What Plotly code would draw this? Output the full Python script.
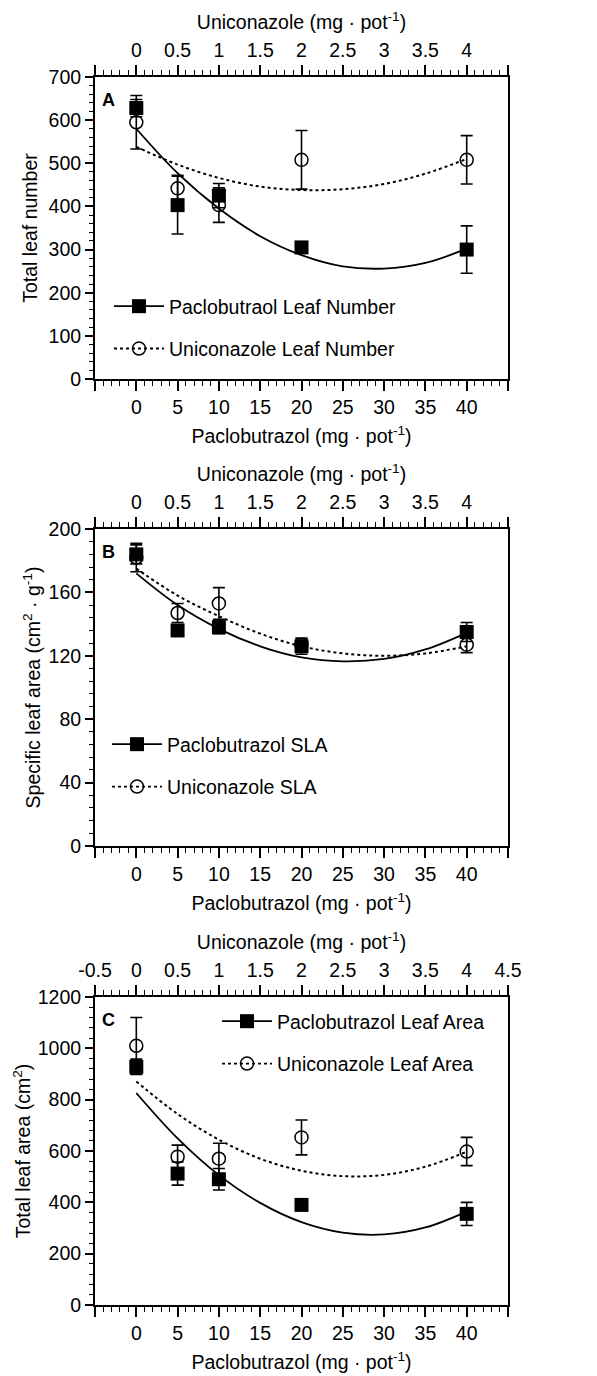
import plotly.graph_objects as go

# ---------------- data ----------------
pac_dose = [0, 5, 10, 20, 40]            # Paclobutrazol (mg/pot)
uni_dose = [0, 0.5, 1, 2, 4]             # Uniconazole (mg/pot)
fit_pac_x = [0, 5, 10, 15, 20, 25, 30, 35, 40]
fit_uni_x = [0, 0.5, 1, 1.5, 2, 2.5, 3, 3.5, 4]

# Panel A: total leaf number
pac_A = [628, 403, 425, 305, 300]
pac_A_err = [20, 67, 28, 10, 55]
uni_A = [595, 442, 403, 508, 508]
uni_A_err = [62, 30, 40, 68, 56]
fitA_pac = [580, 477, 395, 331, 287, 261, 256, 269, 302]
fitA_uni = [538, 497, 466, 446, 438, 440, 452, 476, 510]

# Panel B: specific leaf area
pac_B = [184, 136, 138, 126, 135]
pac_B_err = [6, 3, 4, 5, 6]
uni_B = [182, 147, 153, 127, 127]
uni_B_err = [9, 6, 10, 4, 5]
fitB_pac = [172, 152, 137, 126, 119, 116.5, 118, 124, 134.5]
fitB_uni = [175, 158, 145, 134, 126, 121.5, 120, 121.5, 126]

# Panel C: total leaf area
pac_C = [928, 512, 490, 390, 355]
pac_C_err = [30, 45, 42, 10, 45]
uni_C = [1010, 578, 570, 653, 598]
uni_C_err = [110, 45, 60, 68, 55]
fitC_pac = [826, 649, 506, 398, 323, 282, 275, 302, 364]
fitC_uni = [871, 744, 644, 570, 523, 502, 507, 539, 597]

legend_A = ["Paclobutraol Leaf Number", "Uniconazole Leaf Number"]
legend_B = ["Paclobutrazol SLA", "Uniconazole SLA"]
legend_C = ["Paclobutrazol Leaf Area", "Uniconazole Leaf Area"]

y_titles = ["Total leaf number", "Specific leaf area (cm<sup>2</sup> · g<sup>-1</sup>)",
            "Total leaf area (cm<sup>2</sup>)"]
x_bottom_title = "Paclobutrazol (mg · pot<sup>-1</sup>)"
x_top_title = "Uniconazole (mg · pot<sup>-1</sup>)"

# ---------------- layout geometry ----------------
W, H = 597, 1376
FONT = "Liberation Sans, Arial, Helvetica, sans-serif"
FS = 19.5
x_dom = [95 / W, 508 / W]
panels = [
    dict(top=77, bottom=379, yrange=[0, 700], ydt=100, yminor=20, letter="A",
         pac=pac_A, pac_err=pac_A_err, uni=uni_A, uni_err=uni_A_err,
         fpac=fitA_pac, funi=fitA_uni, leg=legend_A, leg_pos=(109, 287),
         top_labels=False, ystand=6),
    dict(top=529, bottom=846, yrange=[0, 200], ydt=40, yminor=8, letter="B",
         pac=pac_B, pac_err=pac_B_err, uni=uni_B, uni_err=uni_B_err,
         fpac=fitB_pac, funi=fitB_uni, leg=legend_B, leg_pos=(107, 725),
         top_labels=False, ystand=3),
    dict(top=997, bottom=1305, yrange=[0, 1200], ydt=200, yminor=40, letter="C",
         pac=pac_C, pac_err=pac_C_err, uni=uni_C, uni_err=uni_C_err,
         fpac=fitC_pac, funi=fitC_uni, leg=legend_C, leg_pos=(217, 1002),
         top_labels=True, ystand=2),
]

fig = go.Figure()
layout = dict(width=W, height=H, margin=dict(l=0, r=0, t=0, b=0, autoexpand=False),
              template="none",
              paper_bgcolor="white", plot_bgcolor="white",
              font=dict(family=FONT, size=FS, color="black"),
              showlegend=True)
annotations = []

bottom_ticks = [-5, 0, 5, 10, 15, 20, 25, 30, 35, 40, 45]
top_ticks = [-0.5, 0, 0.5, 1, 1.5, 2, 2.5, 3, 3.5, 4, 4.5]

def fmt(v):
    return ("%g" % v)

for i, p in enumerate(panels):
    n = i + 1
    xb = "x" if n == 1 else f"x{2*n-1}"
    xt = f"x{2*n}"
    yy = "y" if n == 1 else f"y{n}"
    xb_key = "xaxis" if n == 1 else f"xaxis{2*n-1}"
    xt_key = f"xaxis{2*n}"
    y_key = "yaxis" if n == 1 else f"yaxis{n}"
    leg_key = "legend" if n == 1 else f"legend{n}"
    y_dom = [1 - p["bottom"] / H, 1 - p["top"] / H]

    layout[xb_key] = dict(
        domain=x_dom, anchor=yy, range=[-5, 45], side="bottom", automargin=False,
        tickmode="array", tickvals=bottom_ticks,
        ticktext=["" if v in (-5, 45) else fmt(v) for v in bottom_ticks],
        ticks="outside", ticklen=10, tickwidth=1.5, tickcolor="black",
        minor=dict(dtick=1, tick0=0, ticks="outside", ticklen=5, tickwidth=1, tickcolor="black"),
        showline=True, linewidth=2, linecolor="black", mirror=True,
        showgrid=False, zeroline=False,
        tickfont=dict(size=FS),
        title=dict(text=x_bottom_title, font=dict(size=FS), standoff=12),
    )
    layout[xt_key] = dict(
        domain=x_dom, anchor=yy, overlaying=xb, range=[-0.5, 4.5], side="top", automargin=False,
        tickmode="array", tickvals=top_ticks,
        ticktext=[fmt(v) if (p["top_labels"] or v not in (-0.5, 4.5)) else "" for v in top_ticks],
        ticks="outside", ticklen=10, tickwidth=1.5, tickcolor="black",
        minor=dict(dtick=0.1, tick0=0, ticks="outside", ticklen=5, tickwidth=1, tickcolor="black"),
        showline=True, linewidth=2, linecolor="black",
        showgrid=False, zeroline=False,
        tickfont=dict(size=FS),
        title=dict(text=x_top_title, font=dict(size=FS), standoff=4),
    )
    layout[y_key] = dict(
        domain=y_dom, anchor=xb, range=p["yrange"], automargin=False,
        dtick=p["ydt"], tick0=0,
        ticks="outside", ticklen=8, tickwidth=1.5, tickcolor="black",
        minor=dict(dtick=p["yminor"], ticks="outside", ticklen=4, tickwidth=1, tickcolor="black"),
        showline=True, linewidth=2, linecolor="black", mirror=True,
        showgrid=False, zeroline=False,
        tickfont=dict(size=FS),
        title=dict(text=y_titles[i], font=dict(size=FS), standoff=p["ystand"]),
    )
    lx, ly = p["leg_pos"]
    layout[leg_key] = dict(
        x=lx / W, y=1 - ly / H, xanchor="left", yanchor="top",
        bgcolor="rgba(0,0,0,0)", font=dict(size=FS, family=FONT),
        traceorder="grouped", tracegroupgap=14, itemwidth=50,
    )

    # fit curves
    fig.add_trace(go.Scatter(x=fit_pac_x, y=p["fpac"], mode="lines", xaxis=xb, yaxis=yy,
                             line=dict(color="black", width=1.8, shape="spline", smoothing=1.0),
                             showlegend=False, hoverinfo="skip"))
    fig.add_trace(go.Scatter(x=fit_uni_x, y=p["funi"], mode="lines", xaxis=xt, yaxis=yy,
                             line=dict(color="black", width=2, dash="dot", shape="spline", smoothing=1.0),
                             showlegend=False, hoverinfo="skip"))
    # data points with error bars
    fig.add_trace(go.Scatter(x=uni_dose, y=p["uni"], mode="markers", xaxis=xt, yaxis=yy,
                             marker=dict(symbol="circle-open", size=13, color="black", line=dict(width=1.5)),
                             error_y=dict(type="data", array=p["uni_err"], color="black", thickness=1.6, width=6),
                             showlegend=False))
    fig.add_trace(go.Scatter(x=pac_dose, y=p["pac"], mode="markers", xaxis=xb, yaxis=yy,
                             marker=dict(symbol="square", size=14, color="black"),
                             error_y=dict(type="data", array=p["pac_err"], color="black", thickness=1.6, width=6),
                             showlegend=False))
    # legend entries
    fig.add_trace(go.Scatter(x=[None], y=[None], mode="lines+markers", xaxis=xb, yaxis=yy,
                             name=p["leg"][0], legend=leg_key, legendgroup=f"p{n}",
                             line=dict(color="black", width=1.8),
                             marker=dict(symbol="square", size=14, color="black")))
    fig.add_trace(go.Scatter(x=[None], y=[None], mode="lines+markers", xaxis=xb, yaxis=yy,
                             name=p["leg"][1], legend=leg_key, legendgroup=f"u{n}",
                             line=dict(color="black", width=1.8, dash="dot"),
                             marker=dict(symbol="circle-open", size=13, color="black", line=dict(width=1.5))))

    annotations.append(dict(text="<b>" + p["letter"] + "</b>", x=100 / W, y=1 - (p["top"] + 11) / H,
                            xref="paper", yref="paper", xanchor="left", yanchor="top",
                            showarrow=False, font=dict(size=18, family=FONT)))

layout["annotations"] = annotations
fig.update_layout(**layout)
fig.write_html("out.html")
